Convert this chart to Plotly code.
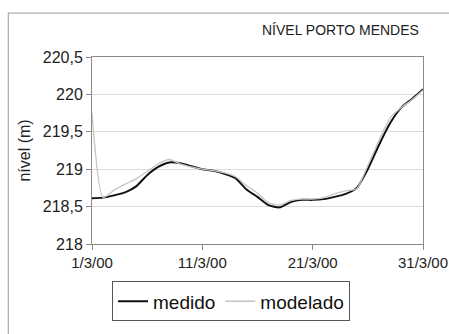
import plotly.graph_objects as go
import pandas as pd

# Daily dates for March 2000
dates = pd.date_range("2000-03-01", "2000-03-31", freq="D")

# Measured water level (m)
medido = [218.61, 218.62, 218.65, 218.69, 218.77, 218.92, 219.03, 219.09, 219.08, 219.04,
          219.00, 218.98, 218.94, 218.88, 218.73, 218.63, 218.52, 218.49, 218.56, 218.59,
          218.59, 218.60, 218.63, 218.67, 218.75, 219.00, 219.32, 219.61, 219.82, 219.94,
          220.07]

# Modelled water level (m)
modelado = [219.75, 218.62, 218.72, 218.80, 218.87, 218.97, 219.07, 219.13, 219.07, 219.03,
            219.00, 218.98, 218.95, 218.90, 218.78, 218.68, 218.55, 218.52, 218.58, 218.60,
            218.60, 218.62, 218.67, 218.71, 218.74, 219.05, 219.38, 219.68, 219.82, 219.93,
            220.06]

x_ticks = ["2000-03-01", "2000-03-11", "2000-03-21", "2000-03-31"]
x_ticklabels = ["1/3/00", "11/3/00", "21/3/00", "31/3/00"]
y_ticks = [218, 218.5, 219, 219.5, 220, 220.5]

font_family = "Liberation Sans, Arial, sans-serif"
axis_gray = "#8a8a8a"

fig = go.Figure()
fig.add_trace(go.Scatter(x=dates, y=medido, name="medido", mode="lines",
                         line=dict(color="#111111", width=2, shape="spline", smoothing=0.6)))
fig.add_trace(go.Scatter(x=dates, y=modelado, name="modelado", mode="lines",
                         line=dict(color="#c4c4c4", width=1.3, shape="spline", smoothing=0.6)))

fig.update_layout(
    width=449, height=334,
    margin=dict(l=92, r=26, t=57, b=77),
    paper_bgcolor="white", plot_bgcolor="white",
    separators=",.",
    font=dict(family=font_family, color="#222222"),
    showlegend=True,
    legend=dict(orientation="h", x=0.42, y=-0.2, xanchor="center", yanchor="top",
                bordercolor="#555555", borderwidth=1, bgcolor="white",
                font=dict(size=19, color="#111111"), itemwidth=30,
                tracegroupgap=0),
    annotations=[dict(text="NÍVEL PORTO MENDES", xref="paper", yref="paper",
                      x=0.995, y=1.145, xanchor="right", yanchor="middle",
                      showarrow=False, font=dict(size=14, color="#222222"))],
    shapes=[dict(type="rect", xref="paper", yref="paper",
                 x0=-0.253, x1=1.2, y0=-0.5, y1=1.235,
                 line=dict(color="#9a9a9a", width=1), fillcolor="rgba(0,0,0,0)",
                 layer="below")],
)

fig.update_xaxes(
    range=["2000-03-01", "2000-03-31"],
    tickvals=x_ticks, ticktext=x_ticklabels,
    ticks="outside", ticklen=5, tickcolor=axis_gray,
    ticklabeloverflow="allow", automargin=False,
    showline=True, linecolor=axis_gray, linewidth=1, mirror=True,
    showgrid=False, zeroline=False,
    tickfont=dict(size=15, color="#222222"),
)
fig.update_yaxes(
    range=[218, 220.5],
    tickvals=y_ticks,
    ticks="outside", ticklen=5, tickcolor=axis_gray,
    showline=True, linecolor=axis_gray, linewidth=1, mirror=True,
    showgrid=True, gridcolor="#dcdcdc", gridwidth=1, zeroline=False,
    tickfont=dict(size=16, color="#222222"),
    title=dict(text="nível (m)", font=dict(size=16, color="#222222"), standoff=8),
)

fig.write_html("out.html")
